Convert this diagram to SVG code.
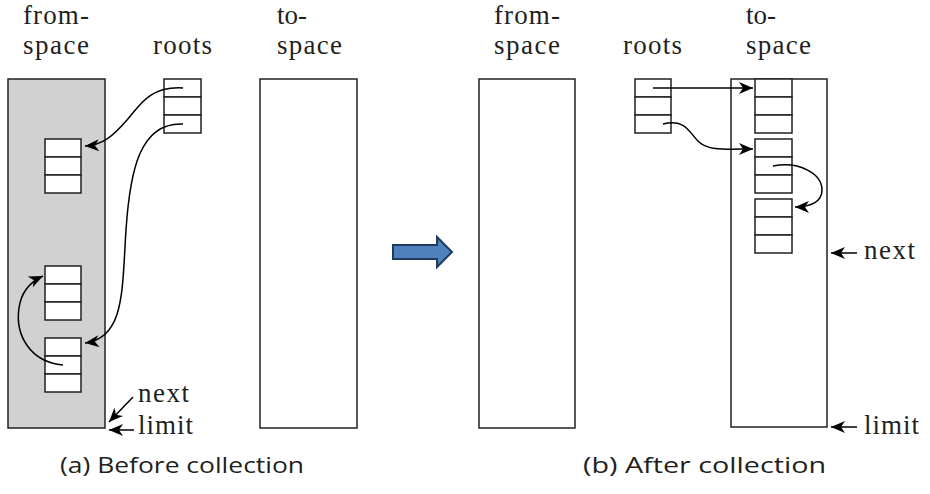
<svg xmlns="http://www.w3.org/2000/svg" width="930" height="494" viewBox="0 0 930 494">
<style>
.lbl{font-family:"Liberation Serif","Times New Roman",serif;font-size:27px;fill:#231f20}
.cap{font-family:"Open Sans","Liberation Sans",sans-serif;font-size:21px;fill:#231f20}
.space{fill:#fff;stroke:#231f20;stroke-width:1.5}
.gray{fill:#d1d1d1}
.cell{fill:#fff;stroke:#231f20;stroke-width:1.5}
.con{fill:none;stroke:#000;stroke-width:1.5;marker-end:url(#ah)}
</style>
<defs>
<marker id="ah" viewBox="-15 -6 16 12" refX="0" refY="0" markerWidth="16" markerHeight="12" markerUnits="userSpaceOnUse" orient="auto">
<path d="M0,0 L-14,-6 L-10,0 L-14,6 Z" fill="#000"/>
</marker>
</defs>

<!-- Panel (a) -->
<g id="a-fromspace">
<rect x="8" y="79" width="97" height="349" class="space gray"/>
<text class="lbl" x="23" y="24" textLength="66" lengthAdjust="spacing">from-</text>
<text class="lbl" x="23" y="54" textLength="66" lengthAdjust="spacing">space</text>
</g>
<g id="a-roots">
<text class="lbl" x="153" y="54" textLength="59" lengthAdjust="spacing">roots</text>
<rect x="164" y="79" width="37" height="18" class="cell"/>
<rect x="164" y="97" width="37" height="18" class="cell"/>
<rect x="164" y="115" width="37" height="18" class="cell"/>
</g>
<g id="a-tospace">
<rect x="260" y="79" width="97" height="349" class="space"/>
<text class="lbl" x="277" y="24" textLength="30" lengthAdjust="spacing">to-</text>
<text class="lbl" x="277" y="54" textLength="65" lengthAdjust="spacing">space</text>
</g>
<g id="a-objA">
<rect x="45" y="139" width="36" height="18" class="cell"/>
<rect x="45" y="157" width="36" height="18" class="cell"/>
<rect x="45" y="175" width="36" height="18" class="cell"/>
</g>
<g id="a-objB">
<rect x="45" y="266" width="36" height="18" class="cell"/>
<rect x="45" y="284" width="36" height="18" class="cell"/>
<rect x="45" y="302" width="36" height="18" class="cell"/>
</g>
<g id="a-objC">
<rect x="45" y="338" width="36" height="18" class="cell"/>
<rect x="45" y="356" width="36" height="18" class="cell"/>
<rect x="45" y="374" width="36" height="18" class="cell"/>
</g>
<g id="a-next">
<text class="lbl" x="138" y="402" textLength="51" lengthAdjust="spacing">next</text>
</g>
<g id="a-limit">
<text class="lbl" x="138" y="434" textLength="55" lengthAdjust="spacing">limit</text>
</g>
<g id="a-caption">
<text class="cap" x="60" y="473" textLength="244" lengthAdjust="spacingAndGlyphs">(a) Before collection</text>
</g>

<!-- transition arrow -->
<g id="transition">
<path d="M393,245 L437,245 L437,237 L452,252 L437,267 L437,259 L393,259 Z" fill="#4f81bd" stroke="#1f3a5f" stroke-width="2" stroke-linejoin="miter"/>
</g>

<!-- Panel (b) -->
<g id="b-fromspace">
<rect x="479" y="79" width="96" height="349" class="space"/>
<text class="lbl" x="494" y="24" textLength="66" lengthAdjust="spacing">from-</text>
<text class="lbl" x="494" y="54" textLength="66" lengthAdjust="spacing">space</text>
</g>
<g id="b-roots">
<text class="lbl" x="623" y="54" textLength="59" lengthAdjust="spacing">roots</text>
<rect x="635" y="79" width="36" height="18" class="cell"/>
<rect x="635" y="97" width="36" height="18" class="cell"/>
<rect x="635" y="115" width="36" height="18" class="cell"/>
</g>
<g id="b-tospace">
<rect x="731" y="79" width="96" height="348" class="space"/>
<text class="lbl" x="746" y="24" textLength="30" lengthAdjust="spacing">to-</text>
<text class="lbl" x="746" y="54" textLength="65" lengthAdjust="spacing">space</text>
</g>
<g id="b-obj1">
<rect x="755" y="79" width="37" height="18" class="cell"/>
<rect x="755" y="97" width="37" height="18" class="cell"/>
<rect x="755" y="115" width="37" height="18" class="cell"/>
</g>
<g id="b-obj2">
<rect x="755" y="139" width="37" height="18" class="cell"/>
<rect x="755" y="157" width="37" height="18" class="cell"/>
<rect x="755" y="175" width="37" height="18" class="cell"/>
</g>
<g id="b-obj3">
<rect x="755" y="199" width="37" height="18" class="cell"/>
<rect x="755" y="217" width="37" height="18" class="cell"/>
<rect x="755" y="235" width="37" height="18" class="cell"/>
</g>
<g id="b-next">
<text class="lbl" x="864" y="259" textLength="51" lengthAdjust="spacing">next</text>
</g>
<g id="b-limit">
<text class="lbl" x="864" y="434" textLength="55" lengthAdjust="spacing">limit</text>
</g>
<g id="b-caption">
<text class="cap" x="583" y="473" textLength="243" lengthAdjust="spacingAndGlyphs">(b) After collection</text>
</g>

<g id="connectors">
<path class="con" d="M183,88 C150,86 140,105 127,120 C113,136 103,145 85,146"/>
<path class="con" d="M183,124 C140,122 130,170 126,230 C122,290 125,338 85,343"/>
<path class="con" d="M63,365 C30,362 15,335 19,308 C21,293 30,282 43,276"/>
<path class="con" d="M133,397 L109,422"/>
<path class="con" d="M134,430 L109,430"/>
<path class="con" d="M653,88 L753,88"/>
<path class="con" d="M663,124 C686,118 690,134 699,142 C709,151 725,149 753,149"/>
<path class="con" d="M773,166 C800,161 822,174 822,190 C822,201 812,207 795,207"/>
<path class="con" d="M857,253 L831,253"/>
<path class="con" d="M857,427 L831,427"/>
</g>
</svg>
